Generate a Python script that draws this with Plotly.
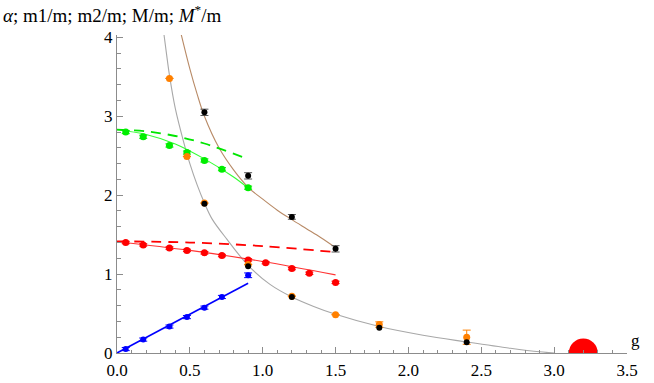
import plotly.graph_objects as go

# --- data --------------------------------------------------------------
G_PTS = [0.06, 0.18, 0.36, 0.48, 0.6, 0.72, 0.9]
BLUE_Y = [0.05, 0.17, 0.335, 0.455, 0.575, 0.71, 0.985]
BLUE_ERR = [0.02, 0.02, 0.02, 0.02, 0.02, 0.02, 0.03]
BLUE_LINE_G = [0.0, 0.9]
BLUE_LINE_Y = [0.0, 0.885]

GREEN_Y = [2.80, 2.74, 2.63, 2.54, 2.44, 2.33, 2.095]
GREEN_LINE_G = [0.0, 0.2, 0.4, 0.6, 0.8, 0.9]
GREEN_LINE_Y = [2.83, 2.77, 2.65, 2.46, 2.23, 2.09]
GREEN_DASH_G = [0.0, 0.2, 0.4, 0.6, 0.88]
GREEN_DASH_Y = [2.83, 2.81, 2.75, 2.655, 2.47]

RED_G = [0.06, 0.18, 0.36, 0.48, 0.6, 0.72, 0.9, 1.02, 1.2, 1.32, 1.5]
RED_Y = [1.40, 1.37, 1.33, 1.30, 1.27, 1.235, 1.18, 1.145, 1.07, 1.01, 0.895]
RED_LINE_G = [0.0, 0.5, 1.0, 1.5]
RED_LINE_Y = [1.41, 1.30, 1.16, 0.99]
RED_DASH_G = [0.0, 0.5, 1.0, 1.5]
RED_DASH_Y = [1.415, 1.40, 1.355, 1.278]

# M*/m (black, on brown curve)
MSTAR_G = [0.6, 0.9, 1.2, 1.5]
MSTAR_Y = [3.05, 2.245, 1.725, 1.32]
MSTAR_ERR = [0.04, 0.04, 0.03, 0.04]
BROWN_G = [0.435, 0.5, 0.55, 0.6, 0.7, 0.8, 0.9, 1.0, 1.1, 1.2, 1.3, 1.4, 1.5]
BROWN_Y = [4.08, 3.60, 3.28, 3.0, 2.60, 2.32, 2.10, 1.95, 1.81, 1.69, 1.575, 1.46, 1.335]

# M/m (orange and black, on grey curve)
ORANGE_G = [0.36, 0.48, 0.6, 0.9, 1.2, 1.5, 1.8, 2.4]
ORANGE_Y = [3.48, 2.49, 1.90, 1.12, 0.72, 0.485, 0.36, 0.20]
ORANGE_ERR = [0.0, 0.0, 0.0, 0.0, 0.0, 0.0, 0.035, 0.09]
BLACK_G = [0.6, 0.9, 1.2, 1.8, 2.4]
BLACK_Y = [1.89, 1.10, 0.71, 0.32, 0.135]
GREY_G = [0.32, 0.344, 0.36, 0.4, 0.458, 0.5, 0.55, 0.6, 0.652, 0.755, 0.9,
          1.05, 1.2, 1.35, 1.5, 1.8, 2.1, 2.4, 2.7, 2.9, 3.0]
GREY_Y = [4.07, 3.73, 3.52, 3.10, 2.67, 2.40, 2.13, 1.90, 1.70, 1.44, 1.11,
          0.87, 0.71, 0.59, 0.49, 0.335, 0.225, 0.14, 0.06, 0.015, 0.0]

CRIT_G = [3.2]
CRIT_Y = [0.0]

SERIF = "Liberation Serif, Times New Roman, serif"
AXIS = "#8c8c8c"

fig = go.Figure()


def curve(x, y, color, width=1, dash=None, shape="spline"):
    fig.add_trace(go.Scatter(
        x=x, y=y, mode="lines",
        line=dict(color=color, width=width, dash=dash, shape=shape),
        hoverinfo="skip",
    ))


def points(x, y, color, size=7, err=None, err_color=None):
    fig.add_trace(go.Scatter(
        x=x, y=y, mode="markers",
        marker=dict(color=color, size=size, line=dict(width=0)),
        error_y=dict(type="data", array=err, color=err_color or color,
                     thickness=1, width=4, visible=err is not None),
    ))


# curves
curve(GREY_G, GREY_Y, "#a8a8a8", 1.1)
curve(BROWN_G, BROWN_Y, "#b88a66", 1.1)
curve(GREEN_LINE_G, GREEN_LINE_Y, "#33ff33", 1.1)
curve(GREEN_DASH_G, GREEN_DASH_Y, "#00e600", 1.8, dash="10px,7px")
curve(RED_LINE_G, RED_LINE_Y, "#ff3333", 1.1)
curve(RED_DASH_G, RED_DASH_Y, "#ff0000", 1.8, dash="10px,7px")
curve(BLUE_LINE_G, BLUE_LINE_Y, "#0000ff", 1.6, shape="linear")

# critical point: half disk on the axis (lower half clipped)
fig.add_trace(go.Scatter(
    x=CRIT_G, y=CRIT_Y, mode="markers", cliponaxis=True,
    marker=dict(color="#ff0000", size=29, line=dict(width=0)),
))

# data points
points(G_PTS, GREEN_Y, "#00ee00", err=[0.02] * len(GREEN_Y))
points(RED_G, RED_Y, "#ff0000", err=[0.015] * len(RED_Y))
points(G_PTS, BLUE_Y, "#0000ff", size=6, err=BLUE_ERR)
points(ORANGE_G, ORANGE_Y, "#ff8000", err=ORANGE_ERR)
points(BLACK_G, BLACK_Y, "#000000", size=6)
points(MSTAR_G, MSTAR_Y, "#000000", size=6, err=MSTAR_ERR, err_color="#555555")

fig.update_layout(
    width=654, height=383,
    plot_bgcolor="white", paper_bgcolor="white",
    showlegend=False,
    margin=dict(l=117, r=27, t=35, b=30),
    font=dict(family=SERIF, size=17, color="black"),
    xaxis=dict(
        range=[0, 3.5], tickvals=[0, 0.5, 1, 1.5, 2, 2.5, 3, 3.5],
        ticktext=["0.0", "0.5", "1.0", "1.5", "2.0", "2.5", "3.0", "3.5"],
        showgrid=False, zeroline=False, showline=True, linecolor=AXIS,
        linewidth=1, ticks="inside", ticklen=6, tickcolor=AXIS,
        minor=dict(ticks="inside", ticklen=3.5, dtick=0.1, tickcolor=AXIS),
        automargin=False, ticklabelstandoff=2,
    ),
    yaxis=dict(
        range=[0, 4.03], tickvals=[0, 1, 2, 3, 4],
        showgrid=False, zeroline=False, showline=True, linecolor=AXIS,
        linewidth=1, ticks="inside", ticklen=6, tickcolor=AXIS,
        minor=dict(ticks="inside", ticklen=3.5, dtick=0.2, tickcolor=AXIS),
        automargin=False,
    ),
    annotations=[
        dict(text="<i>α</i>; m1/m; m2/m; M/m; <i>M</i><sup>*</sup>/m",
             xref="paper", yref="paper", x=-116 / 510, y=1 + 21 / 318,
             xanchor="left", yanchor="middle", showarrow=False,
             font=dict(size=19)),
        dict(text="g", xref="paper", yref="y", x=1.004, y=0.01,
             xanchor="left", yanchor="bottom", showarrow=False,
             font=dict(size=17)),
    ],
)

# the page's default body margin would push the fixed-size figure off-canvas
fig.write_html("out.html", config={"displayModeBar": False},
               post_script="document.body.style.margin = '0';")
